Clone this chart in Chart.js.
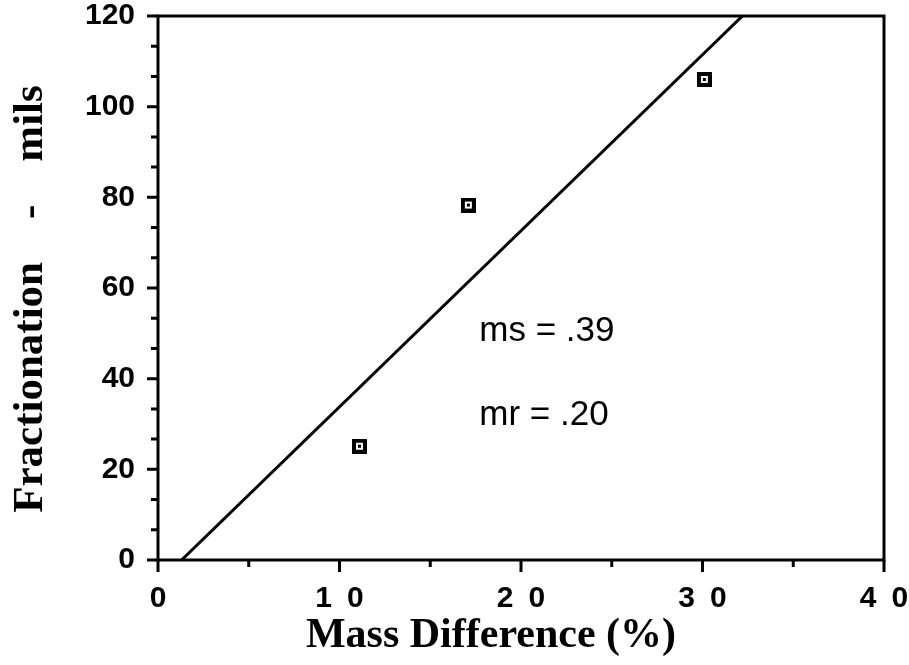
<!DOCTYPE html>
<html>
<head>
<meta charset="utf-8">
<script src="https://cdn.jsdelivr.net/npm/chart.js@4.4.1/dist/chart.umd.min.js"></script>
<style>
  html, body { margin: 0; padding: 0; background: #fff; }
</style>
</head>
<body>
<canvas id="chart" width="909" height="665"></canvas>
<script>
// measured points
const massDiff = [11.1, 17.1, 30.1];
const fractionation = [25.1, 78.3, 106.0];

// fitted line end points
const fitX = [1.3, 32.2];
const fitY = [0, 120];

const xTicks = [0, 10, 20, 30, 40];
const xTickLabels = ['0', '1\u20020', '2\u20020', '3\u20020', '4\u20020'];
const yTicks = [0, 20, 40, 60, 80, 100, 120];

const notes = ['ms = .39', 'mr = .20'];
const xTitle = 'Mass Difference (%)';
const yTitle = 'Fractionation    -    mils';

const SANS = '"Liberation Sans", Arial, Helvetica, sans-serif';
const SERIF = '"Liberation Serif", "Times New Roman", serif';

// open square with a dot in the middle
function makeMarker() {
    const c = document.createElement('canvas');
    c.width = 15;
    c.height = 15;
    const g = c.getContext('2d');
    g.fillStyle = '#000';
    g.fillRect(0, 0, 15, 15);
    g.fillStyle = '#fff';
    g.fillRect(4, 4, 7, 7);
    g.fillStyle = '#000';
    g.fillRect(6, 6, 3, 3);
    return c;
}

// keep the plot box fixed: no extra room for overhanging labels
function noPad(s) {
    s.paddingLeft = 0;
    s.paddingRight = 0;
    s.paddingTop = 0;
    s.paddingBottom = 0;
}

const decor = {
    id: 'decor',
    afterDraw(chart) {
        const ctx = chart.ctx;
        const a = chart.chartArea;
        const xs = chart.scales.x;
        const ys = chart.scales.y;
        ctx.save();
        ctx.strokeStyle = '#000';
        ctx.lineWidth = 3;
        ctx.strokeRect(a.left, a.top, a.right - a.left, a.bottom - a.top);

        // tick marks
        ctx.beginPath();
        for (let v = 0; v <= 40; v += 5) {
            const px = xs.getPixelForValue(v);
            const len = v % 10 === 0 ? 12 : 7;
            ctx.moveTo(px, a.bottom);
            ctx.lineTo(px, a.bottom + len);
        }
        for (let i = 0; i <= 18; i++) {
            const py = ys.getPixelForValue(i * 20 / 3);
            const len = i % 3 === 0 ? 11 : 7;
            ctx.moveTo(a.left, py);
            ctx.lineTo(a.left - len, py);
        }
        ctx.stroke();

        // notes inside the plot
        ctx.fillStyle = '#000';
        ctx.font = '35px ' + SANS;
        ctx.textAlign = 'left';
        ctx.textBaseline = 'middle';
        ctx.fillText(notes[0], xs.getPixelForValue(17.7), ys.getPixelForValue(50.5));
        ctx.fillText(notes[1], xs.getPixelForValue(17.7), ys.getPixelForValue(31.8));

        // axis titles
        ctx.font = 'bold 42px ' + SERIF;
        ctx.textAlign = 'center';
        ctx.textBaseline = 'alphabetic';
        ctx.fillText(xTitle, 491, 647);

        ctx.translate(42, 299);
        ctx.rotate(-Math.PI / 2);
        ctx.font = 'bold 43px ' + SERIF;
        ctx.fillText(yTitle, 0, 0);
        ctx.restore();
    }
};

new Chart(document.getElementById('chart'), {
    data: {
        datasets: [
            {
                type: 'scatter',
                data: massDiff.map((x, i) => ({ x: x, y: fractionation[i] })),
                pointStyle: makeMarker(),
                pointRadius: 7
            },
            {
                type: 'line',
                data: fitX.map((x, i) => ({ x: x, y: fitY[i] })),
                borderColor: '#000',
                borderWidth: 3,
                pointRadius: 0,
                fill: false
            }
        ]
    },
    options: {
        responsive: false,
        animation: false,
        events: [],
        layout: { padding: { top: 16, right: 25, left: 0, bottom: 0 } },
        plugins: {
            legend: { display: false },
            tooltip: { enabled: false }
        },
        scales: {
            x: {
                type: 'linear',
                min: 0,
                max: 40,
                afterFit: s => { s.height = 105; noPad(s); },
                afterBuildTicks: s => { s.ticks = xTicks.map(v => ({ value: v })); },
                grid: { display: false, drawTicks: false },
                border: { display: false },
                ticks: {
                    color: '#000',
                    font: { family: SANS, size: 30, weight: 'bold' },
                    padding: 21,
                    maxRotation: 0,
                    autoSkip: false,
                    callback: v => xTickLabels[xTicks.indexOf(v)]
                }
            },
            y: {
                type: 'linear',
                min: 0,
                max: 120,
                afterFit: s => { s.width = 158; noPad(s); },
                afterBuildTicks: s => { s.ticks = yTicks.map(v => ({ value: v })); },
                grid: { display: false, drawTicks: false },
                border: { display: false },
                ticks: {
                    color: '#000',
                    font: { family: SANS, size: 30, weight: 'bold' },
                    padding: 23,
                    autoSkip: false
                }
            }
        }
    },
    plugins: [decor]
});
</script>
</body>
</html>
